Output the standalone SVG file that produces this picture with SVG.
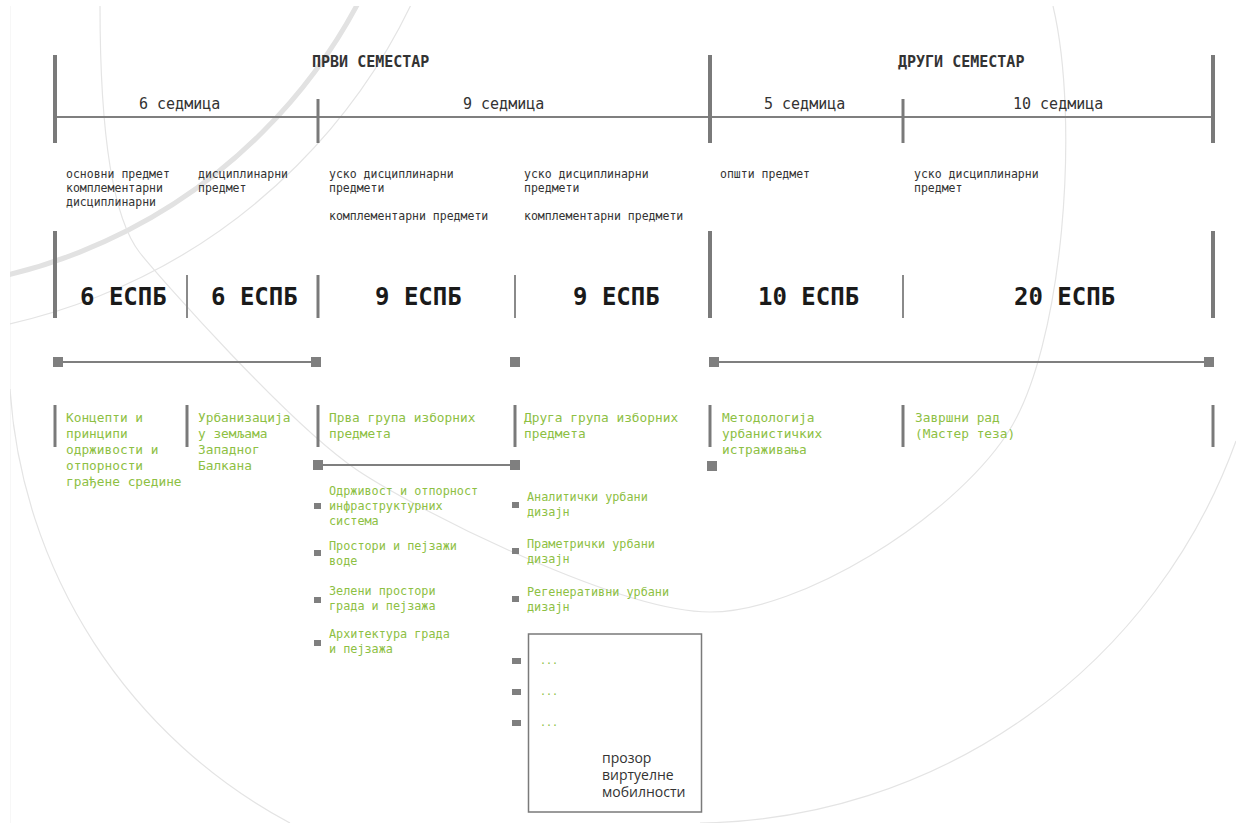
<svg xmlns="http://www.w3.org/2000/svg" width="1236" height="823" viewBox="0 0 1236 823">
<defs>
<style>
.m{font-family:"DejaVu Sans Mono","Liberation Mono",monospace}
.sem{font-size:15px;font-weight:bold;fill:#333}
.wk{font-size:15px;fill:#333}
.cat{font-size:11.5px;fill:#333}
.ects{font-size:24px;font-weight:bold;fill:#1a1a1a}
.subj{font-size:12.8px;fill:#8dc043}
.item{font-size:11.8px;fill:#8dc043}
.dots{font-size:10px;fill:#8dc043}
.sans{font-family:"Open Sans","Noto Sans",sans-serif;font-size:14px;fill:#333}
.tk{stroke:#7a7a7a;stroke-width:4}
.tm{stroke:#7a7a7a;stroke-width:3}
.tn{stroke:#8a8a8a;stroke-width:2}
.ln{stroke:#7f7f7f;stroke-width:2;fill:none}
.sq{fill:#7f7f7f}
.arc{fill:none;stroke:#e4e4e4;stroke-width:1.2}
.arcw{fill:none;stroke:#e2e2e2;stroke-width:5}
</style>
<clipPath id="page"><rect x="10" y="6" width="1226" height="817"/></clipPath>
</defs>
<rect width="1236" height="823" fill="#fff"/>
<g id="decor" clip-path="url(#page)">
<line x1="10" y1="6" x2="10" y2="823" stroke="#f0f0f0" stroke-width="1"/>
<circle class="arcw" cx="-119" cy="-250" r="540"/>
<circle class="arc" cx="-119" cy="-250" r="588"/>
<path class="arc" d="M100,6 C100,120 110,215 140,253 C160,278 290,425 357,470 C420,512 620,612 710,612 C800,612 950,520 1007,434 C1064,348 1080,120 1053,6"/>
<path class="arc" d="M10,389 A531,531 0 0 0 290,823"/>
<path class="arc" d="M1236,441 A578,578 0 0 1 700,823"/>
</g>

<g id="timeline">
<line class="ln" x1="55" y1="117" x2="1213" y2="117"/>
<line class="tk" x1="55" y1="55" x2="55" y2="143"/>
<line class="tk" x1="710" y1="55" x2="710" y2="143"/>
<line class="tk" x1="1213" y1="55" x2="1213" y2="143"/>
<line class="tm" x1="318" y1="99" x2="318" y2="143"/>
<line class="tm" x1="903" y1="99" x2="903" y2="143"/>
<text class="m sem" x="312" y="67">ПРВИ СЕМЕСТАР</text>
<text class="m sem" x="898" y="67">ДРУГИ СЕМЕСТАР</text>
<text class="m wk" x="139" y="109">6 седмица</text>
<text class="m wk" x="463" y="109">9 седмица</text>
<text class="m wk" x="764" y="109">5 седмица</text>
<text class="m wk" x="1013" y="109">10 седмица</text>
</g>

<g id="categories">
<text class="m cat" x="66" y="178">основни предмет</text>
<text class="m cat" x="66" y="192">комплементарни</text>
<text class="m cat" x="66" y="206">дисциплинарни</text>
<text class="m cat" x="198" y="178">дисциплинарни</text>
<text class="m cat" x="198" y="192">предмет</text>
<text class="m cat" x="329" y="178">уско дисциплинарни</text>
<text class="m cat" x="329" y="192">предмети</text>
<text class="m cat" x="329" y="220">комплементарни предмети</text>
<text class="m cat" x="524" y="178">уско дисциплинарни</text>
<text class="m cat" x="524" y="192">предмети</text>
<text class="m cat" x="524" y="220">комплементарни предмети</text>
<text class="m cat" x="720" y="178">општи предмет</text>
<text class="m cat" x="914" y="178">уско дисциплинарни</text>
<text class="m cat" x="914" y="192">предмет</text>
</g>

<g id="ects">
<line class="tk" x1="55" y1="231" x2="55" y2="318"/>
<line class="tk" x1="710" y1="231" x2="710" y2="318"/>
<line class="tk" x1="1213" y1="231" x2="1213" y2="318"/>
<line class="tn" x1="187" y1="275" x2="187" y2="318"/>
<line class="tm" x1="318" y1="275" x2="318" y2="318"/>
<line class="tn" x1="515" y1="275" x2="515" y2="318"/>
<line class="tn" x1="903" y1="275" x2="903" y2="318"/>
<text class="m ects" x="80" y="305">6 ЕСПБ</text>
<text class="m ects" x="211" y="305">6 ЕСПБ</text>
<text class="m ects" x="375" y="305">9 ЕСПБ</text>
<text class="m ects" x="573" y="305">9 ЕСПБ</text>
<text class="m ects" x="758" y="305">10 ЕСПБ</text>
<text class="m ects" x="1014" y="305">20 ЕСПБ</text>
</g>

<g id="connectors">
<line class="ln" x1="58" y1="362" x2="316" y2="362"/>
<line class="ln" x1="714" y1="362" x2="1209" y2="362"/>
<line class="ln" x1="318" y1="465" x2="515" y2="465"/>
<rect class="sq" x="53" y="357" width="10" height="10"/>
<rect class="sq" x="311" y="357" width="10" height="10"/>
<rect class="sq" x="510" y="357" width="10" height="10"/>
<rect class="sq" x="709" y="357" width="10" height="10"/>
<rect class="sq" x="1204" y="357" width="10" height="10"/>
<rect class="sq" x="313" y="460" width="10" height="10"/>
<rect class="sq" x="510" y="460" width="10" height="10"/>
<rect class="sq" x="707" y="461" width="10" height="10"/>
</g>

<g id="subjects">
<line class="tm" x1="55" y1="405" x2="55" y2="447"/>
<line class="tm" x1="187" y1="405" x2="187" y2="447"/>
<line class="tm" x1="318" y1="405" x2="318" y2="447"/>
<line class="tm" x1="515" y1="405" x2="515" y2="447"/>
<line class="tm" x1="710" y1="405" x2="710" y2="447"/>
<line class="tm" x1="903" y1="405" x2="903" y2="447"/>
<line class="tm" x1="1213" y1="405" x2="1213" y2="447"/>
<g id="s1"><text class="m subj" x="66" y="422">Концепти и</text><text class="m subj" x="66" y="438">принципи</text><text class="m subj" x="66" y="454">одрживости и</text><text class="m subj" x="66" y="470">отпорности</text><text class="m subj" x="66" y="486">грађене средине</text></g>
<g id="s2"><text class="m subj" x="198" y="422">Урбанизација</text><text class="m subj" x="198" y="438">у земљама</text><text class="m subj" x="198" y="454">Западног</text><text class="m subj" x="198" y="470">Балкана</text></g>
<g id="s3"><text class="m subj" x="329" y="422">Прва група изборних</text><text class="m subj" x="329" y="438">предмета</text></g>
<g id="s4"><text class="m subj" x="524" y="422">Друга група изборних</text><text class="m subj" x="524" y="438">предмета</text></g>
<g id="s5"><text class="m subj" x="722" y="422">Методологија</text><text class="m subj" x="722" y="438">урбанистичких</text><text class="m subj" x="722" y="454">истраживања</text></g>
<g id="s6"><text class="m subj" x="915" y="422">Завршни рад</text><text class="m subj" x="915" y="438">(Мастер теза)</text></g>
</g>

<g id="electives1">
<rect class="sq" x="314" y="503" width="7" height="6"/>
<text class="m item" x="329" y="495">Одрживост и отпорност</text><text class="m item" x="329" y="510">инфраструктурних</text><text class="m item" x="329" y="525">система</text>
<rect class="sq" x="314" y="550" width="7" height="6"/>
<text class="m item" x="329" y="550">Простори и пејзажи</text><text class="m item" x="329" y="565">воде</text>
<rect class="sq" x="314" y="597" width="7" height="6"/>
<text class="m item" x="329" y="595">Зелени простори</text><text class="m item" x="329" y="610">града и пејзажа</text>
<rect class="sq" x="314" y="640" width="7" height="6"/>
<text class="m item" x="329" y="638">Архитектура града</text><text class="m item" x="329" y="653">и пејзажа</text>
</g>

<g id="electives2">
<rect class="sq" x="512" y="502" width="7" height="6"/>
<text class="m item" x="527" y="501">Аналитички урбани</text><text class="m item" x="527" y="516">дизајн</text>
<rect class="sq" x="512" y="548" width="7" height="6"/>
<text class="m item" x="527" y="548">Праметрички урбани</text><text class="m item" x="527" y="563">дизајн</text>
<rect class="sq" x="512" y="596" width="7" height="6"/>
<text class="m item" x="527" y="596">Регенеративни урбани</text><text class="m item" x="527" y="611">дизајн</text>
</g>

<g id="mobility">
<rect x="528.5" y="634" width="173" height="178" fill="none" stroke="#7a7a7a" stroke-width="1.5"/>
<rect class="sq" x="512" y="658" width="9" height="6"/>
<rect class="sq" x="512" y="689" width="9" height="6"/>
<rect class="sq" x="512" y="720" width="9" height="6"/>
<text class="m dots" x="540" y="664">...</text>
<text class="m dots" x="540" y="695">...</text>
<text class="m dots" x="540" y="726">...</text>
<text class="sans" x="602" y="763">прозор</text>
<text class="sans" x="602" y="780">виртуелне</text>
<text class="sans" x="602" y="797">мобилности</text>
</g>
</svg>
